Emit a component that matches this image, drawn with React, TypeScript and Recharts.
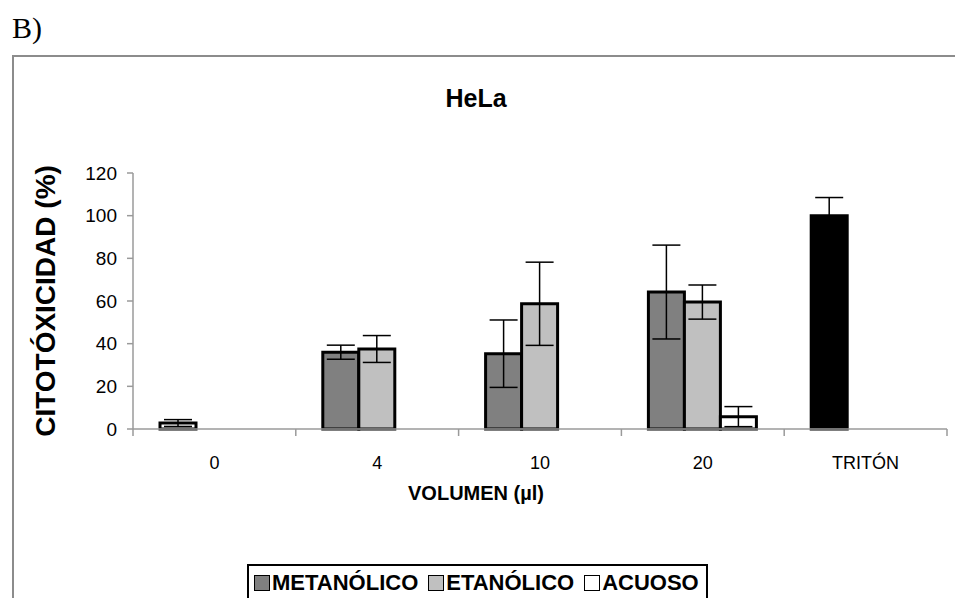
import React from 'react';
import { BarChart, Bar, Cell, ErrorBar, XAxis, YAxis } from 'recharts';

const CATEGORIES = ['0', '4', '10', '20', 'TRITÓN'];

// first slot of each group: controls (0 and TRITÓN) share it with METANÓLICO
const METANOLICO = [2.8, 36, 35.3, 64.2, 100];
const METANOLICO_ERR = [1.6, 3.3, 15.8, 22, 8.5];
const ETANOLICO = [null, 37.5, 58.7, 59.5, null];
const ETANOLICO_ERR = [null, 6.3, 19.5, 8, null];
const ACUOSO = [null, null, null, 5.8, null];
const ACUOSO_ERR = [null, null, null, 4.7, null];

const Y_TICKS = [0, 20, 40, 60, 80, 100, 120];

const LEGEND = [
  { label: 'METANÓLICO', color: '#808080' },
  { label: 'ETANÓLICO', color: '#c0c0c0' },
  { label: 'ACUOSO', color: '#ffffff' },
];

const FIRST_SLOT_COLORS = ['#ffffff', '#808080', '#808080', '#808080', '#000000'];

const AXIS_GREY = '#9a9a9a';
const FONT = '"Liberation Sans", Arial, sans-serif';

const data = CATEGORIES.map((name, i) => ({
  name,
  met: METANOLICO[i],
  metErr: METANOLICO_ERR[i],
  eta: ETANOLICO[i],
  etaErr: ETANOLICO_ERR[i],
  acu: ACUOSO[i],
  acuErr: ACUOSO_ERR[i],
}));

// category label in the middle of the band, tick marks on the band edges
const CategoryTick = (props: any) => {
  const { x, y, payload, index, width } = props;
  const half = width / CATEGORIES.length / 2;
  return (
    <g>
      {index === 0 && (
        <line x1={x - half} x2={x - half} y1={y} y2={y + 7} stroke={AXIS_GREY} strokeWidth={1.5} />
      )}
      <line x1={x + half} x2={x + half} y1={y} y2={y + 7} stroke={AXIS_GREY} strokeWidth={1.5} />
      <text x={x} y={y + 40} textAnchor="middle" fontSize={18} fontFamily={FONT} fill="#000">
        {payload.value}
      </text>
    </g>
  );
};

const errStyle = { stroke: '#000', strokeWidth: 1.5 };

export default function App() {
  return (
    <div
      style={{
        position: 'absolute',
        left: 0,
        top: 0,
        width: 955,
        height: 598,
        overflow: 'hidden',
        background: '#fff',
        fontFamily: FONT,
      }}
    >
      <div
        style={{
          position: 'absolute',
          left: 12,
          top: 11,
          fontFamily: '"Liberation Serif", "Times New Roman", serif',
          fontSize: 30,
          lineHeight: '34px',
        }}
      >
        B)
      </div>
      <div
        style={{
          position: 'absolute',
          left: 12,
          top: 55,
          width: 960,
          height: 600,
          borderLeft: '2px solid #8c8c8c',
          borderTop: '2px solid #8c8c8c',
        }}
      />
      <div
        style={{
          position: 'absolute',
          left: 376,
          width: 200,
          top: 83,
          textAlign: 'center',
          fontWeight: 'bold',
          fontSize: 25,
          lineHeight: '30px',
        }}
      >
        HeLa
      </div>
      <div
        style={{
          position: 'absolute',
          left: 376,
          width: 200,
          top: 480,
          textAlign: 'center',
          fontWeight: 'bold',
          fontSize: 20,
          lineHeight: '26px',
        }}
      >
        VOLUMEN (µl)
      </div>

      <div style={{ position: 'absolute', left: 0, top: 0 }}>
        <BarChart
          width={955}
          height={598}
          data={data}
          margin={{ top: 173, right: 8, bottom: 139, left: 73 }}
          barSize={36}
          barGap={0}
        >
          <XAxis
            dataKey="name"
            height={30}
            axisLine={{ stroke: AXIS_GREY, strokeWidth: 1.5 }}
            tickLine={false}
            tickSize={0}
            tickMargin={0}
            tick={<CategoryTick />}
            interval={0}
          />
          <YAxis
            width={60}
            domain={[0, 120]}
            ticks={Y_TICKS}
            interval={0}
            axisLine={{ stroke: AXIS_GREY, strokeWidth: 1.5 }}
            tickLine={{ stroke: AXIS_GREY, strokeWidth: 1.5 }}
            tickSize={6}
            tickMargin={10}
            tick={{ fill: '#000', fontSize: 19, fontFamily: FONT }}
            label={({ viewBox }: any) => (
              <text
                x={55}
                y={viewBox.y + viewBox.height / 2}
                transform={`rotate(-90, 55, ${viewBox.y + viewBox.height / 2})`}
                textAnchor="middle"
                fontWeight="bold"
                fontSize={28}
                fontFamily={FONT}
                fill="#000"
              >
                CITOTÓXICIDAD (%)
              </text>
            )}
          />
          <Bar dataKey="met" stroke="#000" strokeWidth={3} isAnimationActive={false}>
            {data.map((d, i) => (
              <Cell key={d.name} fill={FIRST_SLOT_COLORS[i]} />
            ))}
            <ErrorBar dataKey="metErr" width={14} {...errStyle} />
          </Bar>
          <Bar dataKey="eta" fill="#c0c0c0" stroke="#000" strokeWidth={3} isAnimationActive={false}>
            <ErrorBar dataKey="etaErr" width={14} {...errStyle} />
          </Bar>
          <Bar dataKey="acu" fill="#ffffff" stroke="#000" strokeWidth={3} isAnimationActive={false}>
            <ErrorBar dataKey="acuErr" width={14} {...errStyle} />
          </Bar>
        </BarChart>
      </div>

      <div
        style={{
          position: 'absolute',
          left: 247,
          top: 564,
          height: 60,
          padding: '4px 7px 0 5px',
          border: '2px solid #000',
          display: 'flex',
          alignItems: 'flex-start',
          fontWeight: 'bold',
          fontSize: 22,
          lineHeight: '26px',
          whiteSpace: 'nowrap',
        }}
      >
        {LEGEND.map((item, i) => (
          <div key={item.label} style={{ display: 'flex', alignItems: 'center', marginLeft: i === 0 ? 0 : 10 }}>
            <span
              style={{
                display: 'inline-block',
                width: 14,
                height: 14,
                background: item.color,
                border: '1.5px solid #000',
                marginRight: 2,
              }}
            />
            {item.label}
          </div>
        ))}
      </div>
    </div>
  );
}
